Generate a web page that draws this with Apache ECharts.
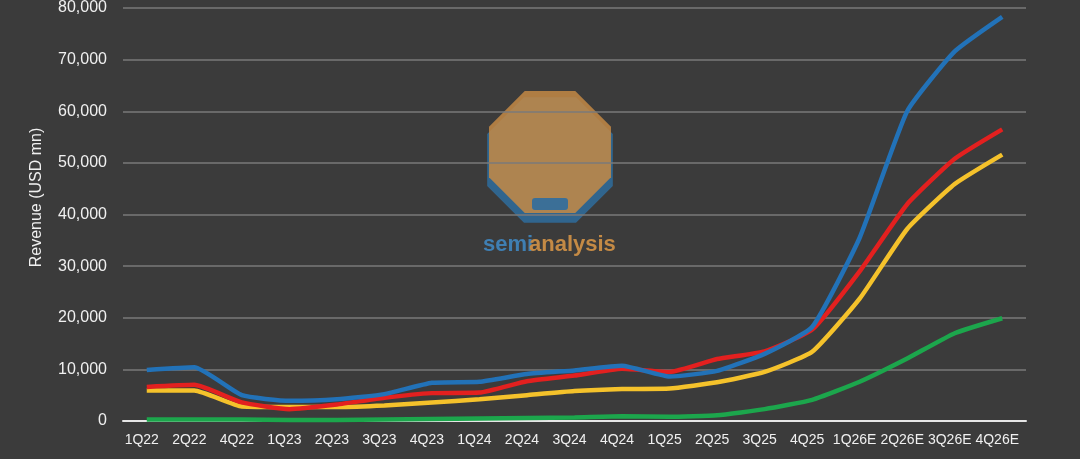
<!DOCTYPE html>
<html>
<head>
    <meta http-equiv="Content-type" content="text/html; charset=utf-8">
    <title>Revenue (USD mn)</title>
    <script src="https://cdn.jsdelivr.net/npm/echarts@6/dist/echarts.min.js"></script>
    <style>
        html, body { margin: 0; padding: 0; background: #3b3b3b; }
        #container { width: 1080px; height: 459px; }
    </style>
</head>
<body>
<div id="container"></div>
<script type="text/javascript">
// quarters on the x axis (the source skips 3Q22)
var quarters = ['1Q22','2Q22','4Q22','1Q23','2Q23','3Q23','4Q23','1Q24','2Q24','3Q24',
                '4Q24','1Q25','2Q25','3Q25','4Q25','1Q26E','2Q26E','3Q26E','4Q26E'];
var yTicks = [0, 10000, 20000, 30000, 40000, 50000, 60000, 70000, 80000];

// revenue, USD mn
var blueLine   = [9900, 10400, 5000, 3900, 4200, 5200, 7400, 7600, 9100, 9800,
                  10700, 8600, 9700, 13000, 18200, 35500, 60000, 71600, 78300];
var redLine    = [6600, 7000, 3600, 2300, 3200, 4500, 5400, 5500, 7700, 8800,
                  10100, 9500, 12000, 13500, 17700, 29000, 42000, 50800, 56500];
var yellowLine = [5900, 5900, 2800, 2700, 2700, 3000, 3600, 4200, 5000, 5800,
                  6200, 6300, 7500, 9500, 13400, 23700, 37200, 45900, 51600];
var greenLine  = [300, 300, 300, 200, 200, 300, 400, 500, 600, 700,
                  900, 800, 1100, 2300, 4100, 7600, 12100, 17000, 19900];

var dom = document.getElementById('container');
var myChart = echarts.init(dom);

// octagon for the faint logo in the middle
function octagon(cx, cy, r) {
    var pts = [];
    for (var i = 0; i < 8; i++) {
        var a = Math.PI / 8 + i * Math.PI / 4;
        pts.push([cx + r * Math.cos(a), cy + r * Math.sin(a)]);
    }
    return pts;
}

function mkLine(name, data, color) {
    return {
        name: name,
        type: 'line',
        data: data,
        symbol: 'none',
        smooth: 0.15,
        lineStyle: { width: 4.5, color: color },
        itemStyle: { color: color }
    };
}

var option = {
    backgroundColor: '#3b3b3b',
    animation: false,
    textStyle: { fontFamily: 'Liberation Sans, Arial, sans-serif' },
    grid: { left: 123, right: 54, top: 6, bottom: 38 },
    graphic: [
        { type: 'polygon', z: 0, shape: { points: octagon(550, 160, 68) },
          style: { fill: '#2f6d9e', opacity: 0.85 } },
        { type: 'polygon', z: 0, shape: { points: octagon(550, 152, 66) },
          style: { fill: '#c48a45', opacity: 0.85 } },
        { type: 'rect', z: 0, shape: { x: 532, y: 198, width: 36, height: 12, r: 3 },
          style: { fill: '#2f6d9e', opacity: 0.9 } },
        { type: 'text', z: 0, left: 483, top: 234,
          style: { text: 'semi', fill: '#3f7fb3', font: 'bold 22px Liberation Sans, Arial' } },
        { type: 'text', z: 0, left: 529, top: 234,
          style: { text: 'analysis', fill: '#c48a45', font: 'bold 22px Liberation Sans, Arial' } }
    ],
    xAxis: {
        type: 'category',
        data: quarters,
        boundaryGap: true,
        axisLine: { lineStyle: { color: '#e6e6e6', width: 2 } },
        axisTick: { show: false },
        axisLabel: { color: '#f0f0f0', fontSize: 14, margin: 12, interval: 0, padding: [0, 10, 0, 0] }
    },
    yAxis: {
        type: 'value',
        min: yTicks[0],
        max: yTicks[yTicks.length - 1],
        interval: yTicks[1] - yTicks[0],
        name: 'Revenue (USD mn)',
        nameLocation: 'middle',
        nameGap: 78,
        nameTextStyle: { color: '#f0f0f0', fontSize: 16, padding: [0, 0, 0, 34] },
        axisLine: { show: false },
        axisTick: { show: false },
        axisLabel: {
            color: '#f0f0f0', fontSize: 16, margin: 16,
            formatter: function (v) { return v.toLocaleString('en-US'); }
        },
        splitLine: { lineStyle: { color: '#7a7a7a', width: 1.5 } }
    },
    series: [
        mkLine('Green', greenLine, '#1ca64c'),
        mkLine('Yellow', yellowLine, '#f5c22b'),
        mkLine('Red', redLine, '#e3201f'),
        mkLine('Blue', blueLine, '#2272b8')
    ]
};

if (option && typeof option === 'object') {
    myChart.setOption(option, true);
}
</script>
</body>
</html>
